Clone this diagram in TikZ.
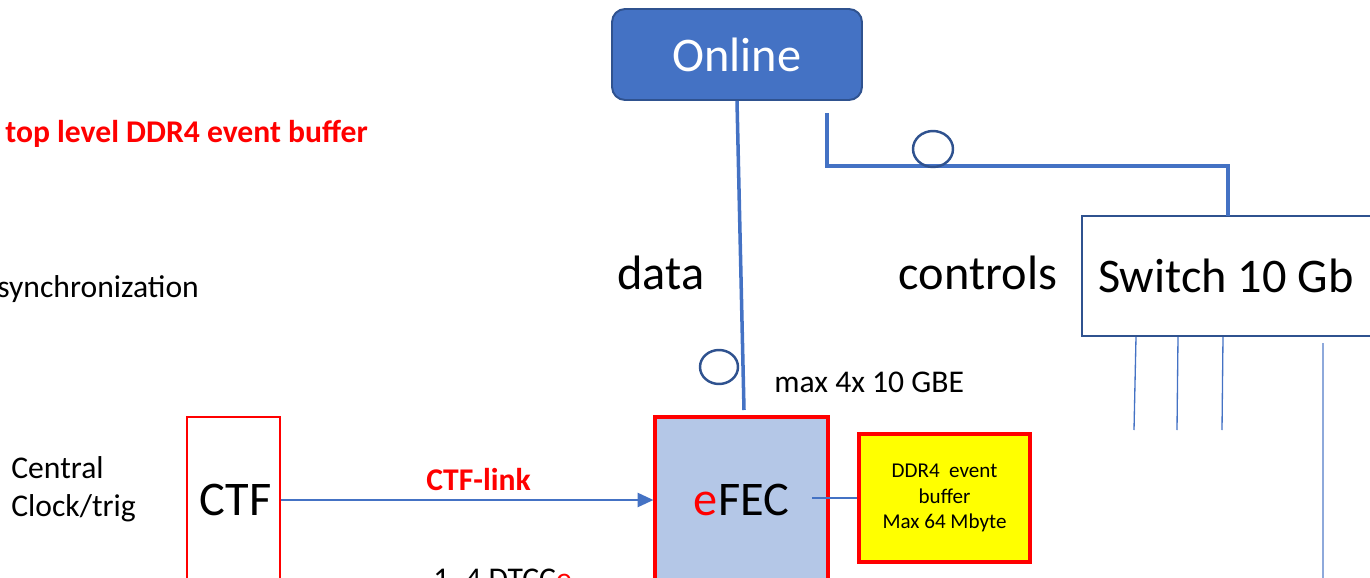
\documentclass[tikz,border=0pt]{standalone}
\usepackage{fontspec}
\setmainfont{Carlito}
\usetikzlibrary{arrows.meta,calc,shapes.geometric}
\definecolor{ublue}{HTML}{4472C4}
\definecolor{dblue}{HTML}{2F528F}
\definecolor{lblue}{HTML}{B4C7E7}
\definecolor{tblue}{HTML}{8EA9DB}
\definecolor{ured}{HTML}{FF0000}
\definecolor{uyellow}{HTML}{FFFF00}
\tikzset{
  big/.style={font=\fontsize{27.5}{33}\selectfont},
  mid/.style={font=\fontsize{18}{21.6}\selectfont},
  small/.style={font=\fontsize{12}{14.4}\selectfont},
  txt/.style={inner sep=0pt, text=black},
  redbox/.style={draw=ured, line width=1.5pt, inner sep=0pt},
  bluewire/.style={draw=ublue, line width=2pt},
  thinwire/.style={draw=ublue, line width=0.75pt},
  ring/.style={draw=dblue, line width=1.4pt, ellipse, inner sep=0pt},
}
\begin{document}
\begin{tikzpicture}[x=0.02cm, y=-0.02cm]
\useasboundingbox (0,0) rectangle (1370,578);
\clip (0,0) rectangle (1370,578);
% Online
\node[draw=dblue, fill=ublue, line width=1.1pt, rounded corners=0.26cm,
      minimum width=5cm, minimum height=1.82cm, inner sep=0pt,
      text=white, big] (online) at (737,54.5) {Online};
% Switch
\node[draw=dblue, fill=white, line width=1.4pt, minimum width=6.36cm,
      minimum height=2.4cm, text width=5.72cm, align=flush left, inner xsep=0.32cm,
      inner ysep=0pt, big] (sw) at (1241,276) {Switch 10 Gb};
% CTF
\node[redbox, fill=white, minimum width=1.86cm, minimum height=3.32cm, big] (ctf) at (233.5,500) {\hspace{0.08cm}CTF};
% eFEC
\node[redbox, fill=lblue, line width=1.8pt, minimum width=3.46cm, minimum height=3.32cm, big] (efec) at (741.5,500) {\textcolor{ured}{e}FEC};
% DDR4 box
\node[redbox, fill=uyellow, line width=2pt, minimum width=3.42cm, minimum height=2.56cm,
      align=center, small] (ddr) at (944.5,498) {DDR4\ \ event\\buffer\\Max 64 Mbyte};
% texts
\node[txt, anchor=west, text=ured, font=\fontsize{18}{21.6}\selectfont\bfseries] (top) at (5,134) {top level DDR4 event buffer};
\node[txt, anchor=west, mid] (sync) at (-3,289) {synchronization};
\node[txt, anchor=west, align=left, mid] (central) at (11,489) {Central\\Clock/trig};
\node[txt, big] (data) at (661,273) {data};
\node[txt, big] (controls) at (978,273) {controls};
\node[txt, anchor=west, mid] (max) at (774,382) {max 4x 10 GBE};
\node[txt, anchor=base west, mid] (dtcc) at (433,589) {1..4 DTCC\textcolor{ured}{e}};
% data line
\coordinate (dataend) at (744,410);
\draw[bluewire] (online.south) -- (dataend);
\node[ring, minimum width=0.76cm, minimum height=0.68cm] (ring1) at (719,367) {};
% controls line
\coordinate (c1) at (827,113);
\coordinate (c2) at (827,166);
\coordinate (swtop) at (1228,216);
\draw[bluewire] (c1) -- (c2) -| (swtop);
\node[ring, minimum width=0.8cm, minimum height=0.72cm] (ring2) at (933,149) {};
% CTF link
\draw[draw=ublue, line width=1.3pt, -{Triangle[length=9pt, width=8pt]}] (ctf.east) -- (efec.west)
  node[pos=0.53, above=0.04cm, text=ured, font=\fontsize{18}{21.6}\selectfont\bfseries] (ctflink) {CTF-link};
% eFEC to DDR
\coordinate (e1) at (812,498);
\draw[thinwire] (e1) -- (ddr.west);
% switch output lines
\coordinate (s1a) at (1136,337); \coordinate (s1b) at (1134,430);
\coordinate (s2a) at (1178,337); \coordinate (s2b) at (1177,430);
\coordinate (s3a) at (1223,337); \coordinate (s3b) at (1222,430);
\coordinate (s4a) at (1323,343); \coordinate (s4b) at (1323,600);
\draw[thinwire] (s1a) -- (s1b);
\draw[thinwire] (s2a) -- (s2b);
\draw[thinwire] (s3a) -- (s3b);
\draw[draw=tblue, line width=1.1pt] (s4a) -- (s4b);
\end{tikzpicture}
\end{document}
